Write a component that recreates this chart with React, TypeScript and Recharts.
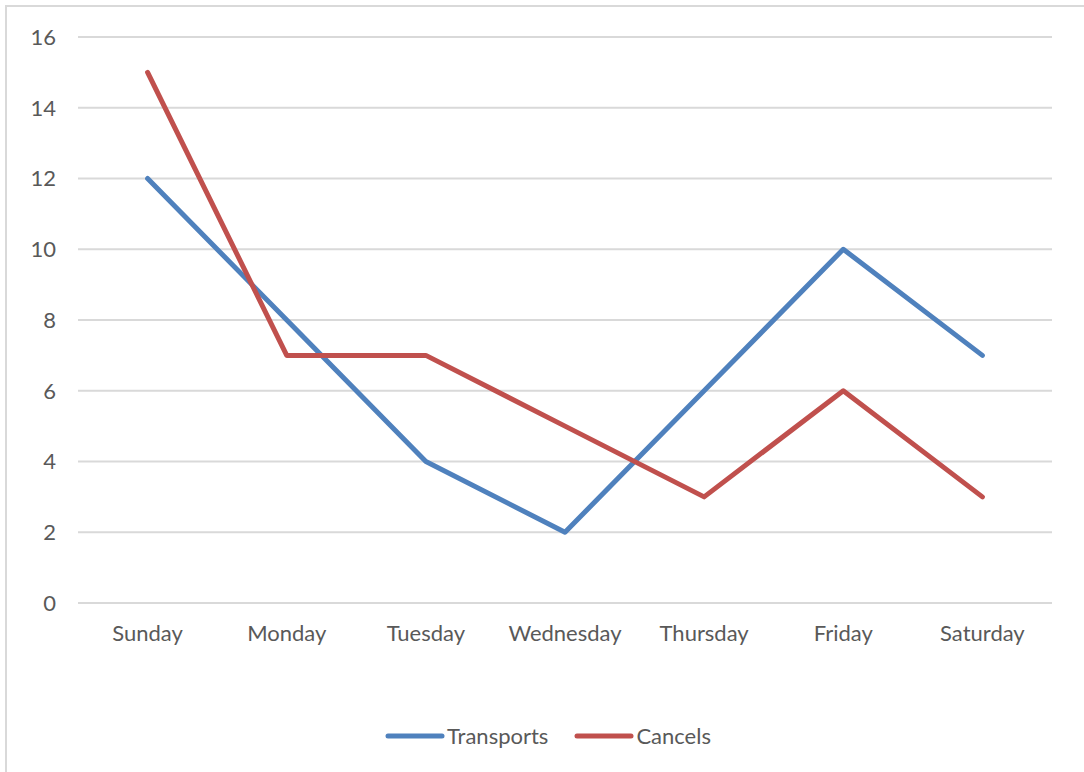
import React from "react";
import { LineChart, Line, XAxis, YAxis, CartesianGrid } from "recharts";

const days = ["Sunday", "Monday", "Tuesday", "Wednesday", "Thursday", "Friday", "Saturday"];
const transports = [12, 8, 4, 2, 6, 10, 7];
const cancels = [15, 7, 7, 5, 3, 6, 3];
const yTicks = [0, 2, 4, 6, 8, 10, 12, 14, 16];

const seriesInfo = [
  { key: "Transports", color: "#4F81BD", values: transports },
  { key: "Cancels", color: "#C0504D", values: cancels },
];

const data = days.map((d, i) => ({
  day: d,
  Transports: transports[i],
  Cancels: cancels[i],
}));

const FONT = "Lato, 'Open Sans', sans-serif";
const TEXT = "#595959";

export default function App() {
  return (
    <div style={{ position: "absolute", left: 0, top: 0, width: 1084, height: 772, background: "#fff", overflow: "hidden" }}>
      <div
        style={{
          position: "absolute",
          left: 5,
          top: 5,
          width: 1200,
          height: 900,
          borderLeft: "2px solid #d9d9d9",
          borderTop: "2px solid #d9d9d9",
        }}
      />
      <div style={{ position: "absolute", left: 0, top: 0 }}>
        <LineChart width={1084} height={772} data={data} margin={{ top: 37, right: 32, left: 0, bottom: 109 }}>
          <CartesianGrid horizontal vertical={false} stroke="#d9d9d9" strokeWidth={2} />
          <XAxis
            dataKey="day"
            axisLine={false}
            tickLine={false}
            height={60}
            padding={{ left: 69.6, right: 69.6 }}
            tickMargin={16}
            tick={{ fill: TEXT, fontSize: 22, fontFamily: FONT }}
            interval={0}
          />
          <YAxis
            width={78}
            domain={[0, 16]}
            ticks={yTicks}
            interval={0}
            axisLine={false}
            tickLine={false}
            tickMargin={16}
            tick={{ fill: TEXT, fontSize: 22, fontFamily: FONT }}
          />
          {seriesInfo.map((s) => (
            <Line
              key={s.key}
              type="linear"
              dataKey={s.key}
              stroke={s.color}
              strokeWidth={5}
              strokeLinejoin="round"
              strokeLinecap="round"
              dot={false}
              activeDot={false}
              isAnimationActive={false}
            />
          ))}
        </LineChart>
      </div>
      <div
        style={{
          position: "absolute",
          top: 722,
          left: 0,
          width: 1084,
          display: "flex",
          justifyContent: "center",
          fontFamily: FONT,
          fontSize: 22,
          color: TEXT,
          paddingLeft: 12,
          boxSizing: "border-box",
        }}
      >
        {seriesInfo.map((s, i) => (
          <div key={s.key} style={{ display: "flex", alignItems: "center", marginLeft: i === 0 ? 0 : 26 }}>
            <svg width={60} height={10} style={{ marginRight: 2 }}>
              <line x1={3} y1={5} x2={57} y2={5} stroke={s.color} strokeWidth={5} strokeLinecap="round" />
            </svg>
            <span style={{ lineHeight: "28px" }}>{s.key}</span>
          </div>
        ))}
      </div>
    </div>
  );
}
